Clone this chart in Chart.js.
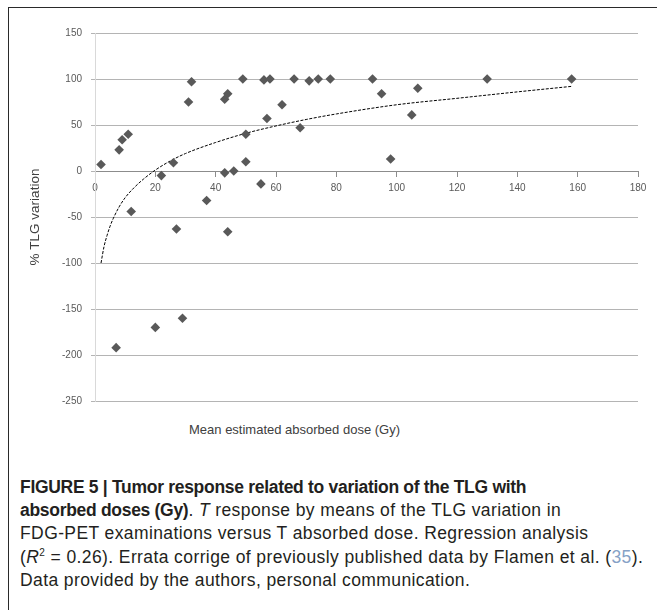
<!DOCTYPE html>
<html>
<head>
<meta charset="utf-8">
<script src="https://cdn.jsdelivr.net/npm/chart.js@4.4.1/dist/chart.umd.min.js"></script>
<style>
  body { margin: 0; background: #fff; }
  #frame { position: absolute; left: 8px; top: 7px; width: 700px; height: 620px;
           border-top: 1.5px solid #2a2a2a; border-left: 1.5px solid #2a2a2a; }
  #chartBox { position: absolute; left: 0; top: 0; width: 657px; height: 416px; }
  #xTitle { position: absolute; left: 189px; top: 422px; font: 13px 'Liberation Sans', sans-serif; color: #404040; }
  #caption { position: absolute; left: 20px; top: 476px; width: 640px;
             font-family: 'Liberation Sans', sans-serif;
             font-size: 17.5px; line-height: 23.2px; letter-spacing: 0.4px; color: #231f20; white-space: nowrap; }
  #caption b { font-weight: bold; letter-spacing: -0.3px; }
  .ref { color: #86a2c6; }
</style>
</head>
<body>
<div id="frame"></div>
<div id="chartBox"><canvas id="myChart"></canvas></div>
<div id="xTitle">Mean estimated absorbed dose (Gy)</div>
<div id="caption">
  <b>FIGURE 5 | Tumor response related to variation of the TLG with</b><br>
  <b>absorbed doses (Gy)</b>. <i>T</i> response by means of the TLG variation in<br>
  FDG-PET examinations versus T absorbed dose. Regression analysis<br>
  (<i>R</i><sup style="font-size:10px;line-height:0">2</sup> = 0.26). Errata corrige of previously published data by Flamen et al. (<span class="ref">35</span>).<br>
  Data provided by the authors, personal communication.
</div>
<script>
// measured points (dose in Gy, % TLG variation)
const doseGy = [2, 7, 8, 9, 11, 12, 20, 22, 26, 27, 29, 31, 32, 37, 43, 44, 43, 44, 46, 49,
  50, 50, 55, 56, 57, 58, 62, 66, 68, 71, 74, 78, 92, 95, 98, 105, 107, 130, 158];
const tlgVariation = [7, -192, 23, 34, 40, -44, -170, -5, 9, -63, -160, 75, 97, -32, 78, 84, -2, -66, 0, 100,
  40, 10, -14, 99, 57, 100, 72, 100, 47, 98, 100, 100, 100, 84, 13, 61, 90, 100, 100];

// logarithmic trend line
const trendDose = [2, 3, 4, 5, 6, 8, 10, 13, 16, 20, 25, 30, 40, 50, 60, 70, 80, 100, 120, 140, 158];
const trendValue = [-100, -82, -70, -60, -52, -39, -29, -18, -9, 1, 11, 19, 31, 41, 49, 56, 62, 72, 79, 86, 92];

const pts = doseGy.map((d, i) => ({ x: d, y: tlgVariation[i] }));
const trend = trendDose.map((d, i) => ({ x: d, y: trendValue[i] }));

const tickFont = { family: 'Liberation Sans', size: 10 };

const config = {
  type: 'scatter',
  data: {
    datasets: [{
      label: 'TLG',
      data: pts,
      pointStyle: 'rectRot',
      pointRadius: 4.8,
      backgroundColor: '#595959',
      borderColor: '#595959',
      borderWidth: 0
    }, {
      label: 'trend',
      type: 'line',
      data: trend,
      showLine: true,
      pointRadius: 0,
      borderColor: '#000',
      borderWidth: 1,
      borderDash: [3, 1.5],
      cubicInterpolationMode: 'monotone',
      fill: false
    }]
  },
  options: {
    responsive: true,
    maintainAspectRatio: false,
    animation: false,
    layout: { padding: { left: 20, right: 19, top: 33, bottom: 4 } },
    plugins: { legend: { display: false }, tooltip: { enabled: false } },
    scales: {
      x: {
        type: 'linear',
        position: { y: 0 },
        min: 0, max: 180,
        ticks: { stepSize: 20, color: '#595959', font: tickFont, padding: 6 },
        grid: { drawOnChartArea: false, drawTicks: true, tickLength: 5, color: '#8c8c8c' },
        border: { color: '#8c8c8c' }
      },
      y: {
        min: -250, max: 150,
        ticks: { stepSize: 50, color: '#595959', font: tickFont, padding: 9 },
        grid: { color: '#b4b4b4', tickLength: 4 },
        border: { color: '#d9d9d9' },
        title: { display: true, text: '% TLG variation', color: '#404040',
                 font: { family: 'Liberation Sans', size: 13.5 }, padding: { top: 7, bottom: 0 } },
        afterFit: (scale) => { scale.width = 75; }
      }
    }
  }
};

const myChart = new Chart(document.getElementById('myChart'), config);
</script>
</body>
</html>
